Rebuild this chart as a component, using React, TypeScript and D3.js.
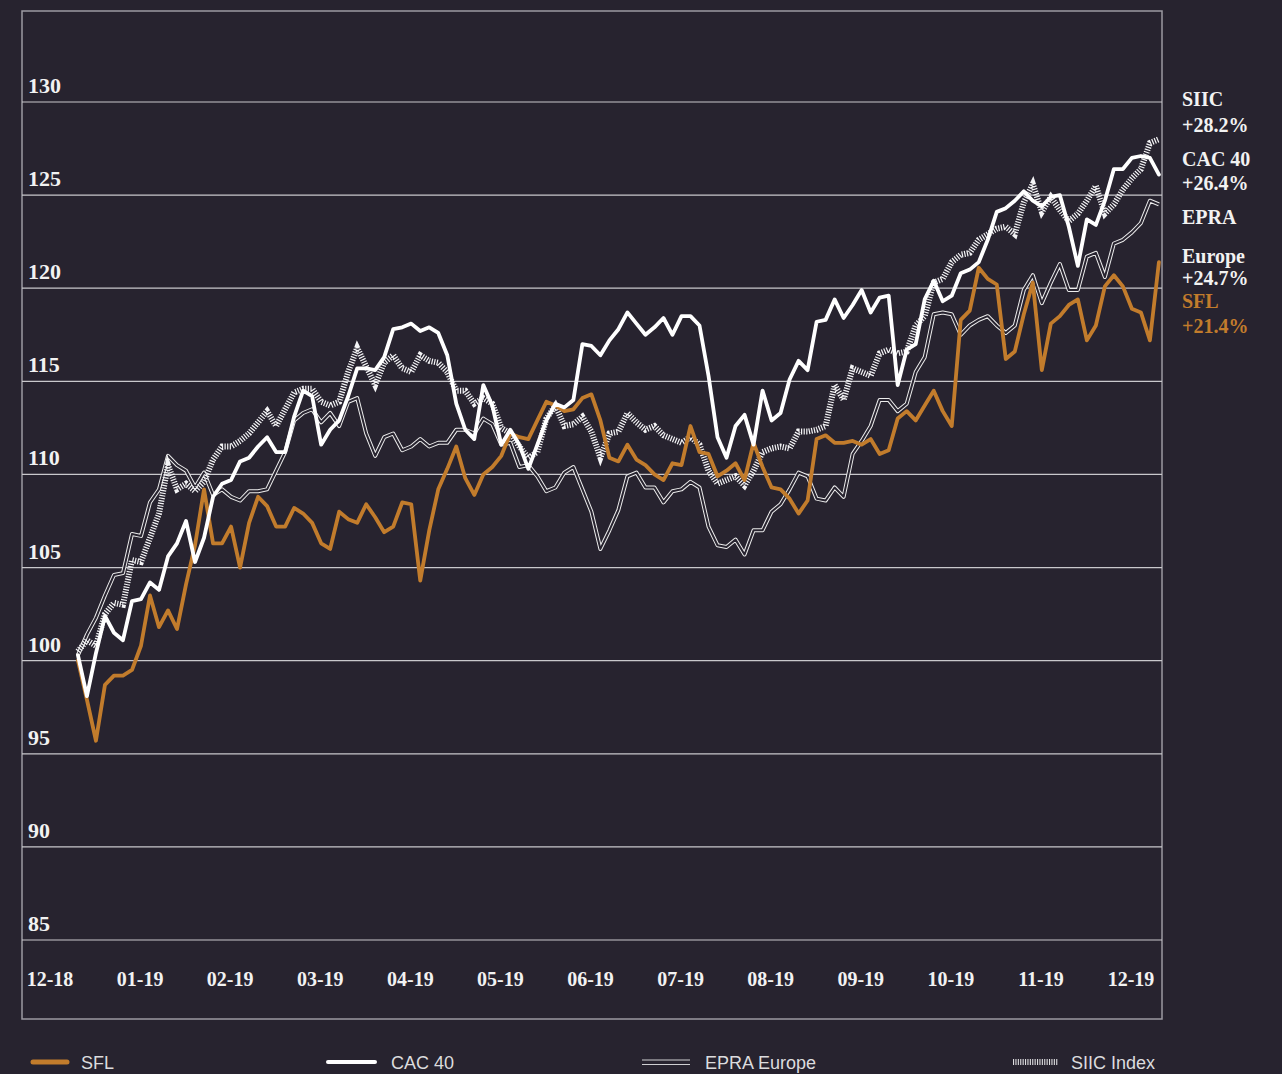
import React, { useEffect, useRef } from "react";
import { select, scaleLinear, line } from "d3";

// month tick labels along the bottom
const monthLabels = ["12-18", "01-19", "02-19", "03-19", "04-19", "05-19", "06-19", "07-19", "08-19", "09-19", "10-19", "11-19", "12-19"];
const yTicks = [85, 90, 95, 100, 105, 110, 115, 120, 125, 130];

// index values, base 100 (roughly every 2 trading days)
const sfl = [
  100.0, 97.9, 95.7, 98.7, 99.2, 99.2, 99.5, 100.8, 103.5, 101.8,
  102.7, 101.7, 104.1, 106.2, 109.2, 106.3, 106.3, 107.2, 105.0, 107.4,
  108.8, 108.3, 107.2, 107.2, 108.2, 107.9, 107.4, 106.3, 106.0, 108.0,
  107.6, 107.4, 108.4, 107.7, 106.9, 107.2, 108.5, 108.4, 104.3, 107.0,
  109.2, 110.3, 111.5, 109.8, 108.9, 110.0, 110.4, 111.0, 112.2, 112.0,
  111.9, 112.9, 113.9, 113.7, 113.4, 113.5, 114.1, 114.3, 112.9, 110.9,
  110.7, 111.6, 110.8, 110.5, 110.0, 109.7, 110.6, 110.5, 112.6, 111.2,
  111.1, 109.9, 110.2, 110.6, 109.7, 111.7, 110.4, 109.3, 109.2, 108.7,
  107.9, 108.6, 111.9, 112.1, 111.7, 111.7, 111.8, 111.6, 111.9, 111.1,
  111.3, 113.0, 113.4, 112.9, 113.7, 114.5, 113.4, 112.6, 118.3, 118.8,
  121.1, 120.5, 120.2, 116.2, 116.6, 118.6, 120.3, 115.6, 118.1, 118.5,
  119.1, 119.4, 117.2, 118.0, 120.1, 120.7, 120.1, 118.9, 118.7, 117.2,
  121.4,
];

const cac40 = [
  100.3, 98.1, 100.4, 102.4, 101.5, 101.1, 103.2, 103.3, 104.2, 103.8,
  105.6, 106.3, 107.5, 105.3, 106.6, 108.8, 109.5, 109.7, 110.7, 110.9,
  111.5, 112.0, 111.2, 111.2, 113.1, 114.5, 114.2, 111.6, 112.4, 112.9,
  114.2, 115.7, 115.7, 115.6, 116.3, 117.8, 117.9, 118.1, 117.7, 117.9,
  117.6, 116.4, 113.8, 112.4, 111.9, 114.8, 113.7, 111.6, 112.4, 111.6,
  110.3, 111.6, 112.9, 113.8, 113.6, 114.0, 117.0, 116.9, 116.4, 117.2,
  117.8, 118.7, 118.1, 117.5, 117.9, 118.4, 117.5, 118.5, 118.5, 118.0,
  115.3, 112.0, 110.9, 112.6, 113.2, 111.6, 114.5, 112.9, 113.3, 115.1,
  116.1, 115.6, 118.2, 118.3, 119.4, 118.4, 119.1, 119.9, 118.7, 119.5,
  119.6, 114.8, 116.7, 117.0, 119.4, 120.4, 119.3, 119.6, 120.8, 121.0,
  121.4, 122.6, 124.1, 124.3, 124.7, 125.2, 124.7, 124.4, 124.9, 125.0,
  123.3, 121.2, 123.7, 123.4, 124.7, 126.4, 126.4, 127.0, 127.1, 127.0,
  126.1,
];

const epraEurope = [
  100.3, 101.4, 102.3, 103.5, 104.6, 104.7, 106.8, 106.7, 108.5, 109.2,
  111.0, 110.5, 110.2, 109.3, 110.1, 108.9, 109.2, 108.8, 108.6, 109.1,
  109.1, 109.2, 110.2, 111.2, 112.9, 113.3, 113.5, 112.8, 113.3, 112.6,
  113.9, 114.1, 112.2, 111.0, 112.0, 112.2, 111.3, 111.5, 111.9, 111.5,
  111.7, 111.7, 112.4, 112.4, 112.2, 113.0, 112.7, 111.6, 111.7, 110.4,
  110.5, 109.9, 109.1, 109.3, 110.1, 110.4, 109.2, 108.0, 106.0, 107.0,
  108.1, 109.9, 110.1, 109.3, 109.3, 108.5, 109.1, 109.2, 109.6, 109.3,
  107.2, 106.2, 106.1, 106.5, 105.7, 107.0, 107.0, 108.0, 108.4, 109.2,
  110.1, 109.9, 108.7, 108.6, 109.3, 108.8, 111.1, 111.8, 112.6, 114.0,
  114.0, 113.4, 113.8, 115.5, 116.3, 118.6, 118.7, 118.6, 117.5, 118.0,
  118.3, 118.5, 118.0, 117.6, 118.0, 119.9, 120.7, 119.2, 120.3, 121.3,
  119.9, 119.9, 121.7, 121.9, 120.6, 122.4, 122.6, 123.0, 123.5, 124.7,
  124.5,
];

const siic = [
  100.5, 101.1, 100.8, 102.5, 103.1, 103.0, 105.4, 105.3, 106.6, 107.9,
  110.5, 109.2, 109.5, 109.1, 109.6, 110.8, 111.5, 111.5, 111.8, 112.2,
  112.8, 113.4, 112.6, 113.5, 114.4, 114.6, 114.6, 113.9, 113.7, 113.9,
  115.5, 116.8, 115.8, 114.8, 116.0, 116.4, 115.7, 115.5, 116.4, 116.1,
  116.0, 115.5, 114.5, 114.5, 113.8, 114.1, 113.8, 112.5, 112.2, 111.5,
  110.9, 111.2, 113.0, 113.7, 112.6, 112.7, 113.1, 112.3, 110.9, 112.2,
  112.3, 113.3, 112.8, 112.4, 112.6, 112.1, 111.9, 111.7, 112.0, 111.6,
  110.2, 109.5, 109.7, 109.9, 109.4, 110.2, 111.2, 111.4, 111.5, 111.4,
  112.3, 112.3, 112.4, 112.6, 114.8, 114.0, 115.7, 115.5, 115.3, 116.5,
  116.7, 116.5, 116.6, 118.0, 118.5, 120.3, 120.5, 121.4, 121.8, 121.9,
  122.6, 122.9, 123.2, 123.3, 122.9, 124.6, 125.6, 124.1, 124.9, 124.2,
  123.6, 124.0, 124.7, 125.5, 124.0, 124.5, 125.3, 125.9, 126.4, 127.8,
  128.0,
];

const endLabels = [
  { text: "SIIC", color: "#f2f2f2" },
  { text: "+28.2%", color: "#f2f2f2" },
  { text: "CAC 40", color: "#f2f2f2" },
  { text: "+26.4%", color: "#f2f2f2" },
  { text: "EPRA", color: "#f2f2f2" },
  { text: "Europe", color: "#f2f2f2" },
  { text: "+24.7%", color: "#f2f2f2" },
  { text: "SFL", color: "#c27c2c" },
  { text: "+21.4%", color: "#c27c2c" },
];
const endLabelBaselines = [106, 132, 166, 190, 224, 263, 285, 308, 333];

const legendItems = ["SFL", "CAC 40", "EPRA Europe", "SIIC Index"];

const BG = "#27232f";
const ORANGE = "#c27c2c";
const SERIF = "'Liberation Serif', 'DejaVu Serif', serif";
const SANS = "'Liberation Sans', Arial, sans-serif";

export default function App() {
  const svgRef = useRef<SVGSVGElement>(null);

  useEffect(() => {
    const svg = select(svgRef.current!);
    svg.selectAll("*").remove();

    const x = scaleLinear().domain([0, 12]).range([50, 1131]);
    const y = scaleLinear().domain([85, 130]).range([940, 102]);
    const t = (i: number) => 0.31 + i / 10; // data sample position in month units

    const path = line<number>()
      .x((_, i) => x(t(i)))
      .y((d) => y(d));

    svg.append("rect").attr("width", 1282).attr("height", 1074).attr("fill", BG);

    // frame
    svg.append("rect")
      .attr("x", 22).attr("y", 11).attr("width", 1140).attr("height", 1008)
      .attr("fill", "none").attr("stroke", "#9c9aa2").attr("stroke-width", 1.5);

    // grid + y labels
    const g = svg.append("g");
    g.selectAll("line.grid")
      .data(yTicks)
      .join("line")
      .attr("class", "grid")
      .attr("x1", 22).attr("x2", 1162)
      .attr("y1", (d) => y(d)).attr("y2", (d) => y(d))
      .attr("stroke", "#c9c8cc").attr("stroke-width", 1.2);
    g.selectAll("text.ylab")
      .data(yTicks)
      .join("text")
      .attr("class", "ylab")
      .attr("x", 28)
      .attr("y", (d) => y(d) - 9)
      .attr("fill", "#f2f2f2")
      .attr("font-family", SERIF).attr("font-weight", "bold").attr("font-size", 22)
      .text((d) => d);

    // month labels
    svg.selectAll("text.xlab")
      .data(monthLabels)
      .join("text")
      .attr("class", "xlab")
      .attr("x", (_, i) => x(i))
      .attr("y", 986)
      .attr("text-anchor", "middle")
      .attr("fill", "#f2f2f2")
      .attr("font-family", SERIF).attr("font-weight", "bold").attr("font-size", 20)
      .text((d) => d);

    // EPRA Europe: double line
    svg.append("path").attr("d", path(epraEurope)!).attr("fill", "none")
      .attr("stroke", "#ececec").attr("stroke-width", 4).attr("stroke-linejoin", "round");
    svg.append("path").attr("d", path(epraEurope)!).attr("fill", "none")
      .attr("stroke", BG).attr("stroke-width", 2).attr("stroke-linejoin", "round");

    // SIIC: hatched line
    svg.append("path").attr("d", path(siic)!).attr("fill", "none")
      .attr("stroke", "#f4f4f6").attr("stroke-width", 6)
      .attr("stroke-dasharray", "1.2 1.4");

    // SFL
    svg.append("path").attr("d", path(sfl)!).attr("fill", "none")
      .attr("stroke", ORANGE).attr("stroke-width", 3.8)
      .attr("stroke-linejoin", "round").attr("stroke-linecap", "round");

    // CAC 40
    svg.append("path").attr("d", path(cac40)!).attr("fill", "none")
      .attr("stroke", "#ffffff").attr("stroke-width", 3.8)
      .attr("stroke-linejoin", "round").attr("stroke-linecap", "round");

    // end labels on the right
    svg.selectAll("text.end")
      .data(endLabels)
      .join("text")
      .attr("class", "end")
      .attr("x", 1182)
      .attr("y", (_, i) => endLabelBaselines[i])
      .attr("fill", (d) => d.color)
      .attr("font-family", SERIF).attr("font-weight", "bold").attr("font-size", 20)
      .text((d) => d.text);

    // legend
    const legendX = [33, 328, 642, 1013];
    const lg = svg.append("g");
    lg.append("line").attr("x1", legendX[0]).attr("x2", legendX[0] + 34).attr("y1", 1062).attr("y2", 1062)
      .attr("stroke", ORANGE).attr("stroke-width", 5).attr("stroke-linecap", "round");
    lg.append("line").attr("x1", legendX[1]).attr("x2", legendX[1] + 47).attr("y1", 1062).attr("y2", 1062)
      .attr("stroke", "#ffffff").attr("stroke-width", 4).attr("stroke-linecap", "round");
    lg.append("line").attr("x1", legendX[2]).attr("x2", legendX[2] + 48).attr("y1", 1060).attr("y2", 1060)
      .attr("stroke", "#cfcfd2").attr("stroke-width", 1.2);
    lg.append("line").attr("x1", legendX[2]).attr("x2", legendX[2] + 48).attr("y1", 1064.5).attr("y2", 1064.5)
      .attr("stroke", "#cfcfd2").attr("stroke-width", 1.2);
    lg.append("line").attr("x1", legendX[3]).attr("x2", legendX[3] + 45).attr("y1", 1062).attr("y2", 1062)
      .attr("stroke", "#dedee0").attr("stroke-width", 6).attr("stroke-dasharray", "1.1 1.3");
    const textX = [81, 391, 705, 1071];
    lg.selectAll("text")
      .data(legendItems)
      .join("text")
      .attr("x", (_, i) => textX[i])
      .attr("y", 1069)
      .attr("fill", "#dcdcde")
      .attr("font-family", SANS).attr("font-size", 18)
      .text((d) => d);
  }, []);

  return (
    <svg
      ref={svgRef}
      width={1282}
      height={1074}
      style={{ position: "absolute", left: 0, top: 0, display: "block" }}
    />
  );
}
